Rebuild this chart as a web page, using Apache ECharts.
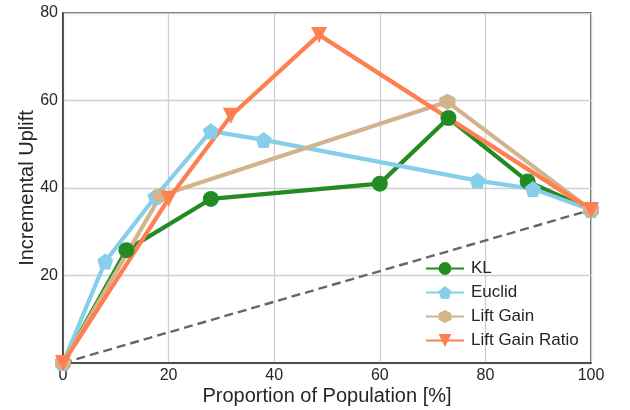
<!DOCTYPE html>
<html>
<head>
<meta charset="utf-8">
<script src="https://cdn.jsdelivr.net/npm/echarts@6/dist/echarts.min.js"></script>
<style>html,body{margin:0;padding:0;background:#fff}#c{width:630px;height:410px}</style>
</head>
<body>
<div id="c"></div>
<script>
// Data
const klX = [0, 12, 28, 60, 73, 88, 100];
const klY = [0, 25.8, 37.5, 41, 56, 41.5, 35];
const euclidX = [0, 8, 17.5, 28, 38, 78.5, 89, 100];
const euclidY = [0, 23.2, 38, 53, 51, 41.7, 39.8, 35];
const liftGainX = [0, 18.5, 72.8, 100];
const liftGainY = [0, 38.3, 59.7, 35];
const lgrX = [0, 20, 31.8, 48.5, 100];
const lgrY = [0, 37.5, 56.5, 75, 35];
const randomX = [0, 100];
const randomY = [0, 35];
const seriesNames = ['KL', 'Euclid', 'Lift Gain', 'Lift Gain Ratio'];
const xTicks = [0, 20, 40, 60, 80, 100];
const yTicks = [20, 40, 60, 80];

const zip = (xs, ys) => xs.map((x, i) => [x, ys[i]]);
const FONT = 'Liberation Sans, Arial, sans-serif';
const pentagon = 'path://M0,-1 L0.951,-0.309 L0.588,0.809 L-0.588,0.809 L-0.951,-0.309 Z';
const hexagon = 'path://M0,-1 L0.866,-0.5 L0.866,0.5 L0,1 L-0.866,0.5 L-0.866,-0.5 Z';
const triDown = 'path://M-1,-0.9 L1,-0.9 L0,0.9 Z';

function lineSeries(name, data, color, symbol, size) {
  return {
    name, type: 'line', data, symbol, symbolSize: size,
    lineStyle: { color, width: 4.2 },
    itemStyle: { color, borderWidth: 0 },
    emphasis: { disabled: true },
    animation: false,
    z: 3
  };
}

const chart = echarts.init(document.getElementById('c'), null, { renderer: 'canvas' });
chart.setOption({
  backgroundColor: '#fff',
  animation: false,
  grid: { left: 63, right: 39, top: 13, bottom: 47, show: true, borderColor: '#333', borderWidth: 1.5,
    outerBoundsMode: 'none', containLabel: false },
  xAxis: {
    type: 'value', min: 0, max: 100, interval: 20,
    name: 'Proportion of Population [%]', nameLocation: 'middle', nameGap: 23, nameMoveOverlap: false,
    nameTextStyle: { fontFamily: FONT, fontSize: 20, color: '#262626' },
    axisLine: { show: true, lineStyle: { color: '#333', width: 1.5 } },
    axisTick: { show: false },
    axisLabel: { fontFamily: FONT, fontSize: 16, color: '#262626', margin: 5,
      formatter: v => xTicks.includes(v) ? String(v) : '' },
    splitLine: { show: true, lineStyle: { color: '#cfcfcf', width: 1.3 } }
  },
  yAxis: {
    type: 'value', min: 0, max: 80, interval: 20,
    name: 'Incremental Uplift', nameLocation: 'middle', nameGap: 26, nameMoveOverlap: false,
    nameTextStyle: { fontFamily: FONT, fontSize: 20, color: '#262626' },
    axisLine: { show: true, lineStyle: { color: '#333', width: 1.5 } },
    axisTick: { show: false },
    axisLabel: { fontFamily: FONT, fontSize: 16, color: '#262626', margin: 5,
      formatter: v => yTicks.includes(v) ? String(v) : '' },
    splitLine: { show: true, lineStyle: { color: '#cfcfcf', width: 1.3 } }
  },
  legend: {
    data: seriesNames,
    orient: 'vertical', left: 420, top: 255,
    itemWidth: 38, itemHeight: 16, itemGap: 7,
    textStyle: { fontFamily: FONT, fontSize: 17, color: '#262626', lineHeight: 15, padding: [0, 0, 0, 2] },
    backgroundColor: 'transparent'
  },
  series: [
    {
      name: 'random', type: 'line', data: zip(randomX, randomY), symbol: 'none',
      lineStyle: { color: '#666666', width: 2.4, type: [9, 5] }, silent: true, z: 2
    },
    lineSeries(seriesNames[0], zip(klX, klY), '#228B22', 'circle', 16),
    lineSeries(seriesNames[1], zip(euclidX, euclidY), '#87CEEB', pentagon, 16),
    lineSeries(seriesNames[2], zip(liftGainX, liftGainY), '#D2B48C', hexagon, 16),
    lineSeries(seriesNames[3], zip(lgrX, lgrY), '#FF7F50', triDown, 16)
  ]
});
</script>
</body>
</html>
